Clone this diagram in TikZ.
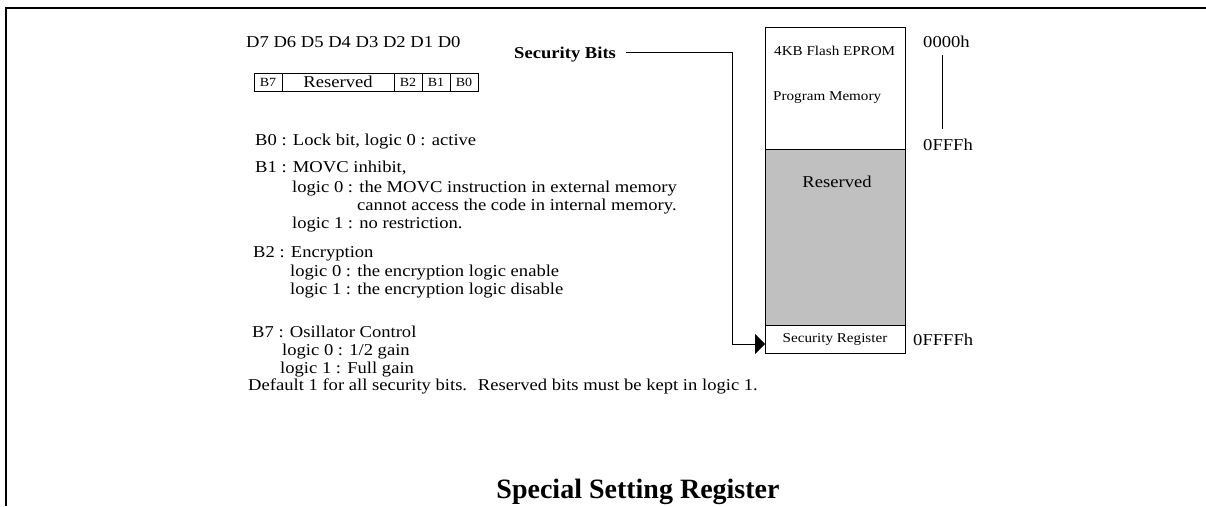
\documentclass[tikz,border=0pt]{standalone}
\usepackage{fontspec}
\setmainfont{Liberation Serif}[FakeStretch=1.12]
\newfontfamily\headfont{Liberation Serif}
\usetikzlibrary{arrows.meta,positioning}
\definecolor{memgray}{HTML}{C0C0C0}
\tikzset{font=\fontsize{16.6}{19}\selectfont}
\tikzset{txt/.style={anchor=base west, inner sep=0pt}}
\tikzset{bitcell/.style={draw, line width=0.8pt, minimum height=18pt, inner sep=0pt, outer sep=0pt,
    font=\fontsize{12.5}{14}\selectfont}}
\tikzset{memblock/.style={draw, line width=0.8pt, minimum width=140pt, inner sep=0pt, outer sep=0pt}}

\begin{document}
\begin{tikzpicture}[x=1pt,y=-1pt]
  \useasboundingbox (0,0) rectangle (1206,506);
  \draw[line width=2pt] (6,506)--(6,8)--(1206,8);

  % bit layout
  \node[txt] (dbits) at (246,47) {D7 D6 D5 D4 D3 D2 D1 D0};
  \node[bitcell, minimum width=28pt, anchor=north west] (b7) at (254,73) {B7};
  \node[bitcell, minimum width=112pt, right=0pt of b7, font=\fontsize{16.6}{19}\selectfont] (resbits) {Reserved};
  \node[bitcell, minimum width=28pt, right=0pt of resbits] (b2) {B2};
  \node[bitcell, minimum width=28pt, right=0pt of b2] (b1) {B1};
  \node[bitcell, minimum width=28pt, right=0pt of b1] (b0) {B0};

  % bit descriptions
  \node[txt] (lockbit) at (255,145) {B0 : Lock bit, logic 0 : active};
  \node[txt] (movc) at (255,172) {B1 : MOVC inhibit,};
  \node[txt] (movczero) at (292,192) {logic 0 : the MOVC instruction in external memory};
  \node[txt] (movcmore) at (357,210) {cannot access the code in internal memory.};
  \node[txt] (movcone) at (292,228) {logic 1 : no restriction.};
  \node[txt] (encr) at (253,257) {B2 : Encryption};
  \node[txt] (encrzero) at (290,276) {logic 0 : the encryption logic enable};
  \node[txt] (encrone) at (290,294) {logic 1 : the encryption logic disable};
  \node[txt] (osc) at (252,337) {B7 : Osillator Control};
  \node[txt] (osczero) at (282,355) {logic 0 : 1/2 gain};
  \node[txt] (oscone) at (280,373) {logic 1 : Full gain};
  \node[txt] (default) at (248,390) {Default 1 for all security bits.~ Reserved bits must be kept in logic 1.};

  % memory map
  \node[memblock, minimum height=122pt, anchor=north] (progmem) at (835,27) {};
  \node[memblock, minimum height=176pt, fill=memgray, below=0pt of progmem] (resmem) {};
  \node[memblock, minimum height=28pt, below=0pt of resmem, font=\fontsize{13.5}{15}\selectfont] (secreg) {Security Register};
  \node[txt, font=\fontsize{13.5}{15}\selectfont] (flash) at (774,55) {4KB Flash EPROM};
  \node[txt, font=\fontsize{13.5}{15}\selectfont] (pmtext) at (773,100) {Program Memory};
  \node[txt, anchor=base] (restext) at (837,187) {Reserved};

  \node[txt] (azero) at (923,47) {0000h};
  \node[txt] (afff) at (923,150) {0FFFh};
  \node[txt] (affff) at (913,345) {0FFFFh};
  \coordinate (addrx) at (942,0);
  \draw[line width=0.8pt, shorten <=8pt, shorten >=9pt] (azero.south -| addrx) -- (afff.north -| addrx);

  % security bits pointer
  \node[txt, font=\bfseries\fontsize{16.6}{19}\selectfont] (secbits) at (514,58) {Security Bits};
  \coordinate (bitsout) at ([xshift=10pt,yshift=2pt]secbits.east);
  \coordinate (bend) at (732,52);
  \draw[line width=0.8pt, -{Triangle[length=10pt,width=20pt]}] (bitsout) -- (bitsout -| bend) |- ([yshift=-5pt]secreg.west);

  \node[anchor=base, inner sep=0pt, font=\headfont\bfseries\fontsize{28}{32}\selectfont] (title) at (638,498) {Special Setting Register};
\end{tikzpicture}
\end{document}
